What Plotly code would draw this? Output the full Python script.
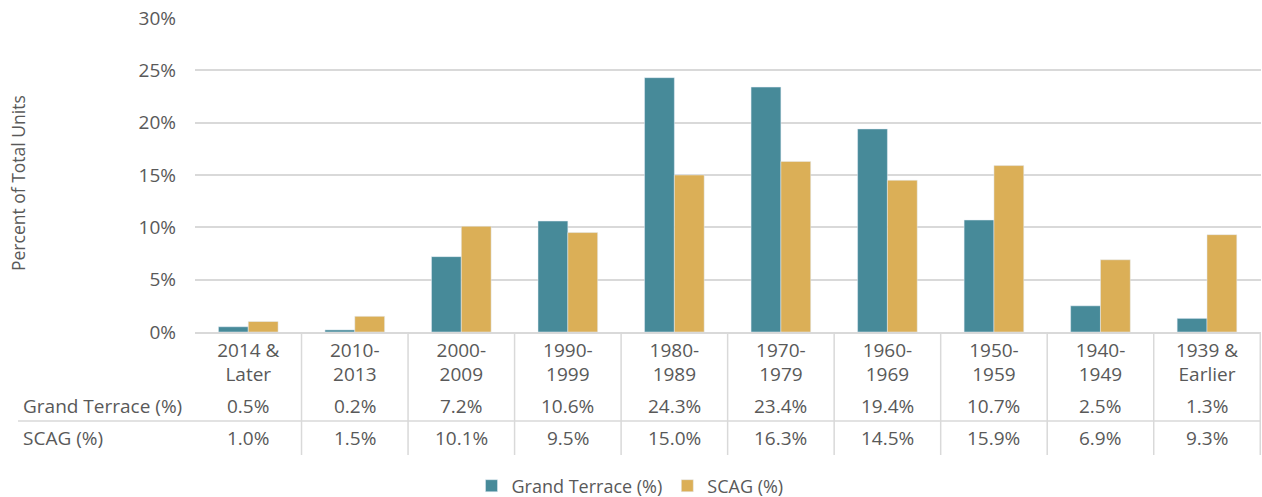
import plotly.graph_objects as go

categories = ["2014 &<br>Later", "2010-<br>2013", "2000-<br>2009", "1990-<br>1999", "1980-<br>1989",
              "1970-<br>1979", "1960-<br>1969", "1950-<br>1959", "1940-<br>1949", "1939 &<br>Earlier"]
grand_terrace = [0.5, 0.2, 7.2, 10.6, 24.3, 23.4, 19.4, 10.7, 2.5, 1.3]
scag = [1.0, 1.5, 10.1, 9.5, 15.0, 16.3, 14.5, 15.9, 6.9, 9.3]
series_names = ["Grand Terrace (%)", "SCAG (%)"]
y_ticks = [0, 5, 10, 15, 20, 25, 30]
y_tick_labels = ["0%", "5%", "10%", "15%", "20%", "25%", "30%"]

W, H = 1262, 497
L, R, T, B = 195, 1, 18, 165
PW, PH = W - L - R, H - T - B
FONT = "Open Sans"
FS = 19
TXT = "#595959"
GRID = "#d9d9d9"

def px_x(x):
    return (x - L) / PW

def px_y(y):
    return (H - B - y) / PH

fig = go.Figure()
fig.add_bar(x=categories, y=grand_terrace, name=series_names[0], marker_color="#478A99")
fig.add_bar(x=categories, y=scag, name=series_names[1], marker_color="#DBAF57")

ann = []
shapes = []
rows = [grand_terrace, scag]
row_y = [406, 438]
for r, (name, vals) in enumerate(zip(series_names, rows)):
    ann.append(dict(x=px_x(21), y=px_y(row_y[r]), xref="paper", yref="paper", text=name,
                    showarrow=False, xanchor="left", yanchor="middle",
                    font=dict(family=FONT, size=FS, color=TXT)))
    for c, v in zip(categories, vals):
        ann.append(dict(x=c, y=px_y(row_y[r]), xref="x", yref="paper", text=f"{v:.1f}%",
                        showarrow=False, xanchor="center", yanchor="middle",
                        font=dict(family=FONT, size=FS, color=TXT)))

# table grid lines
for i in range(len(categories)):
    shapes.append(dict(type="line", xref="x", yref="paper", x0=i + 0.5, x1=i + 0.5,
                       y0=px_y(332), y1=px_y(455), line=dict(color=GRID, width=1.5)))
shapes.append(dict(type="line", xref="paper", yref="paper", x0=px_x(18), x1=1,
                   y0=px_y(421), y1=px_y(421), line=dict(color=GRID, width=1.5)))

ann.append(dict(x=px_x(18), y=px_y(183), xref="paper", yref="paper", text="Percent of Total Units",
                textangle=-90, showarrow=False, xanchor="center", yanchor="middle",
                font=dict(family=FONT, size=17.5, color=TXT)))

fig.update_layout(
    width=W, height=H,
    margin=dict(l=L, r=R, t=T, b=B, pad=0, autoexpand=False),
    paper_bgcolor="white", plot_bgcolor="white",
    barmode="group", bargap=0.44, bargroupgap=0,
    font=dict(family=FONT, size=FS, color=TXT),
    annotations=ann, shapes=shapes,
    legend=dict(orientation="h", x=px_x(630), y=px_y(486), xanchor="center", yanchor="middle",
                font=dict(family=FONT, size=18, color=TXT), itemwidth=30, traceorder="normal"),
    showlegend=True,
)
fig.update_xaxes(showgrid=False, showline=True, linecolor=GRID, linewidth=1.5, automargin=False,
                 ticks="", tickfont=dict(family=FONT, size=FS, color=TXT), fixedrange=True)
fig.update_yaxes(range=[0, 30], tickvals=y_ticks, ticktext=y_tick_labels, showgrid=True, gridcolor=GRID,
                 gridwidth=1.5, zeroline=False, showline=False, ticks="", automargin=False,
                 ticklabelstandoff=18, tickfont=dict(family=FONT, size=FS, color=TXT))

fig.write_html("out.html", config={"displayModeBar": False},
               post_script="document.body.style.margin='0';document.body.style.overflow='hidden';")
